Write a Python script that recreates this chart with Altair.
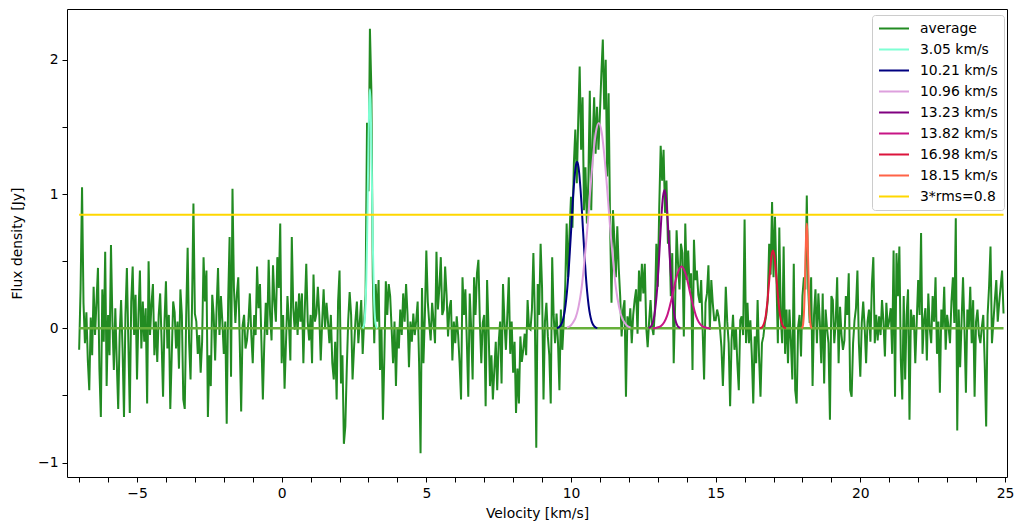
import altair as alt
import pandas as pd

# ---- channel grid of the averaged spectrum ----
V0 = -7.0
DV = 0.05

# averaged spectrum, flux density [Jy], read channel by channel (20 per km/s)
flux_m7_m3 = [
    -0.16, 0.30, 1.05, 0.19, -0.11, 0.12, -0.24, -0.46, 0.08, -0.20, 0.31, -0.05, 0.20, 0.45, -0.30, -0.66, 0.29, -0.10, 0.57, -0.43,
    0.10, -0.20, 0.62, 0.05, -0.31, 0.15, -0.25, -0.60, -0.05, 0.21, -0.15, -0.66, 0.10, 0.45, -0.10, -0.63, 0.20, 0.46, -0.05, 0.25,
    -0.38, 0.10, 0.43, -0.15, 0.20, -0.10, 0.15, -0.56, 0.50, -0.05, 0.18, 0.33, -0.20, 0.05, -0.25, 0.10, 0.26, -0.10, -0.51, 0.05,
    0.35, -0.15, 0.10, -0.60, -0.20, 0.20, 0.12, -0.15, 0.05, -0.30, 0.29, 0.10, -0.53, -0.60, 0.10, 0.60, -0.10, -0.38, 0.15, 0.93,
]
flux_m3_p1 = [
    0.11, 0.05, -0.19, -0.05, -0.33, -0.10, 0.53, 0.20, 0.43, -0.66, -0.20, -0.43, 0.25, 0.10, -0.24, 0.15, 0.45, -0.05, 0.24, 0.05,
    -0.19, 0.05, -0.71, 0.20, 0.68, -0.36, 1.04, 0.30, 0.04, 0.25, 0.38, -0.10, -0.62, 0.02, 0.10, -0.15, -0.09, 0.05, 0.26, -0.05,
    -0.26, 0.10, -0.05, 0.46, 0.15, 0.33, -0.10, -0.53, -0.10, 0.19, -0.05, 0.51, 0.10, -0.09, 0.47, 0.20, 0.05, 0.53, 0.30, 0.78,
    -0.26, 0.10, -0.45, -0.10, 0.24, 0.05, -0.24, 0.68, 0.15, -0.01, 0.20, -0.05, 0.26, 0.05, 0.26, -0.26, 0.15, 0.48, 0.05, -0.09,
]
flux_p1_p5 = [
    0.10, -0.26, 0.40, 0.05, 0.11, 0.31, 0.10, -0.24, 0.05, 0.29, 0.00, 0.19, 0.05, -0.11, 0.10, -0.26, -0.38, -0.10, -0.53, 0.20,
    0.43, -0.41, -0.20, -0.86, -0.73, -0.30, 0.06, 0.27, 0.10, -0.38, -0.15, 0.06, 0.20, -0.11, 0.05, 0.21, -0.19, 0.05, 0.25, 1.53,
    1.02, 2.23, 1.78, 0.38, -0.11, 0.33, 0.05, 0.36, -0.31, 0.00, -0.68, -0.20, 0.35, 0.10, 0.33, 0.24, 0.00, -0.26, 0.05, -0.43,
    0.01, -0.15, 0.14, -0.05, 0.26, 0.05, 0.33, 0.10, -0.29, 0.05, -0.10, 0.11, -0.05, 0.06, 0.20, -0.26, -0.93, 0.30, -0.26, 0.10,
]
flux_p5_p9 = [
    0.58, 0.20, 0.04, -0.09, 0.19, 0.05, -0.11, 0.57, 0.14, 0.30, 0.53, 0.10, 0.14, 0.46, 0.25, -0.06, 0.15, 0.21, -0.24, 0.05,
    -0.11, 0.09, -0.05, -0.26, -0.53, 0.38, 0.10, 0.29, -0.10, -0.51, 0.26, 0.00, -0.38, 0.38, 0.10, 0.41, 0.51, 0.05, -0.26, 0.04,
    0.10, -0.58, 0.36, 0.00, -0.43, -0.20, -0.53, -0.31, -0.10, -0.46, -0.11, 0.05, -0.41, 0.33, 0.05, -0.16, 0.10, 0.38, -0.19, 0.05,
    -0.33, -0.10, -0.63, -0.30, -0.56, -0.06, -0.25, -0.16, -0.04, -0.20, 0.21, 0.00, -0.01, 0.14, 0.56, 0.10, -0.89, 0.33, 0.10, 0.63,
]
flux_p9_p13 = [
    0.30, -0.53, 0.05, 0.19, -0.06, -0.20, -0.56, 0.53, 0.10, -0.11, 0.11, -0.10, -0.46, 0.14, -0.16, 0.05, 0.31, 0.78, 0.38, 0.71,
    0.98, 0.75, 1.23, 1.48, 1.08, 1.55, 1.95, 1.33, 1.72, 0.88, 1.20, 0.78, 1.10, 1.77, 0.88, 1.40, 1.72, 1.30, 1.65, 1.33,
    1.60, 1.90, 2.15, 1.63, 2.00, 1.13, 1.75, 0.80, 0.19, 0.88, 0.66, 0.38, 0.76, 0.45, 0.24, -0.06, 0.14, 0.21, -0.51, 0.09,
    -0.01, 0.15, -0.11, 0.10, 0.21, 0.29, -0.04, 0.43, 0.20, 0.48, 0.26, 0.48, 0.01, -0.14, 0.05, 0.21, 0.01, -0.05, 0.14, 0.63,
]
flux_p13_p17 = [
    0.31, 0.90, 1.36, 1.10, 1.33, 0.86, 1.10, 0.63, 0.73, 0.24, 0.56, -0.26, 0.19, 0.73, 0.48, 0.29, 0.63, 0.56, -0.06, 0.78,
    0.36, 0.58, 0.30, 0.41, -0.31, 0.66, 0.36, 0.43, 0.25, 0.19, 0.36, -0.01, -0.38, 0.19, 0.26, 0.47, -0.01, 0.36, 0.19, 0.06,
    0.06, 0.14, 0.09, 0.00, -0.14, -0.43, -0.11, 0.31, 0.05, -0.11, -0.58, -0.09, 0.10, -0.16, 0.01, -0.26, -0.46, 0.06, 0.09, -0.05,
    0.81, -0.11, 0.19, -0.11, 0.06, -0.20, -0.56, -0.06, -0.26, 0.21, -0.21, -0.51, -0.11, -0.06, 0.04, 0.10, 0.21, 0.63, 0.40, 0.94,
]
flux_p17_p21 = [
    0.38, 0.83, 0.38, -0.11, 0.75, 0.09, -0.11, 0.61, -0.19, 0.14, -0.26, 0.14, -0.10, -0.38, 0.48, -0.46, -0.56, 0.01, 0.10, -0.21,
    0.24, 0.38, 0.29, 0.99, 0.30, 0.04, 0.38, -0.43, 0.10, 0.29, -0.11, 0.26, 0.05, -0.26, 0.26, -0.41, 0.14, 0.00, -0.11, -0.68,
    0.24, 0.21, -0.11, 0.05, 0.38, -0.26, 0.16, -0.05, -0.16, -0.09, 0.24, 0.10, 0.41, -0.46, -0.51, -0.11, 0.06, 0.15, 0.43, -0.11,
    -0.36, 0.04, 0.20, 0.01, -0.26, 0.05, 0.14, -0.10, 0.33, 0.53, -0.11, 0.10, -0.09, 0.09, -0.05, 0.21, 0.05, -0.21, 0.19, 0.00,
]
flux_p21_p25 = [
    0.06, 0.15, -0.19, 0.58, -0.51, 0.56, 0.24, 0.61, -0.24, -0.53, 0.24, -0.38, 0.10, 0.29, -0.68, 0.14, -0.01, 0.10, -0.26, 0.05,
    0.36, 0.10, 0.71, -0.19, 0.06, 0.15, -0.24, 0.26, 0.00, -0.11, 0.24, 0.05, 0.38, -0.19, 0.05, -0.48, 0.14, 0.00, 0.31, -0.16,
    0.10, 0.01, -0.11, 0.20, 0.38, 0.04, 0.82, -0.76, 0.14, -0.29, 0.05, 0.38, 0.00, -0.48, 0.14, 0.00, 0.31, -0.11, 0.21, -0.51,
    0.05, 0.14, -0.05, -0.11, 0.01, 0.10, -0.26, -0.73, 0.10, 0.31, 0.61, -0.11, 0.05, 0.21, 0.36, 0.05, 0.19, 0.31, 0.43, 0.11,
]

g305_vel = [2.80, 2.85, 2.875, 2.90, 2.925, 2.95, 2.975, 3.00, 3.025, 3.05, 3.075, 3.10, 3.125, 3.15, 3.175, 3.20, 3.225, 3.25, 3.30]
g305_flux = [0.00, 0.03, 0.08, 0.18, 0.36, 0.64, 1.00, 1.38, 1.67, 1.78, 1.67, 1.38, 1.00, 0.64, 0.36, 0.18, 0.08, 0.03, 0.00]

g1021_vel = [9.51, 9.56, 9.61, 9.66, 9.71, 9.76, 9.81, 9.86, 9.91, 9.96, 10.01, 10.06, 10.11, 10.16, 10.21,
             10.26, 10.31, 10.36, 10.41, 10.46, 10.51, 10.56, 10.61, 10.66, 10.71, 10.76, 10.81, 10.86, 10.91]
g1021_flux = [0.003, 0.006, 0.014, 0.028, 0.055, 0.10, 0.17, 0.27, 0.40, 0.57, 0.75, 0.94, 1.09, 1.20, 1.24,
              1.20, 1.09, 0.94, 0.75, 0.57, 0.40, 0.27, 0.17, 0.10, 0.055, 0.028, 0.014, 0.006, 0.003]

g1096_vel = [9.86, 9.96, 10.06, 10.16, 10.26, 10.36, 10.46, 10.56, 10.66, 10.76, 10.86, 10.96,
             11.06, 11.16, 11.26, 11.36, 11.46, 11.56, 11.66, 11.76, 11.86, 11.96, 12.06]
g1096_flux = [0.006, 0.015, 0.04, 0.08, 0.16, 0.29, 0.49, 0.73, 1.01, 1.27, 1.46, 1.53,
              1.46, 1.27, 1.01, 0.73, 0.49, 0.29, 0.16, 0.08, 0.04, 0.015, 0.006]

g1323_vel = [12.68, 12.73, 12.78, 12.83, 12.88, 12.93, 12.98, 13.03, 13.08, 13.13, 13.18, 13.23,
             13.28, 13.33, 13.38, 13.43, 13.48, 13.53, 13.58, 13.63, 13.68, 13.73, 13.78]
g1323_flux = [0.003, 0.008, 0.02, 0.045, 0.094, 0.18, 0.30, 0.47, 0.66, 0.85, 0.98, 1.03,
              0.98, 0.85, 0.66, 0.47, 0.30, 0.18, 0.094, 0.045, 0.02, 0.008, 0.003]

g1382_vel = [12.82, 12.92, 13.02, 13.12, 13.22, 13.32, 13.42, 13.52, 13.62, 13.72, 13.82,
             13.92, 14.02, 14.12, 14.22, 14.32, 14.42, 14.52, 14.62, 14.72, 14.82]
g1382_flux = [0.001, 0.003, 0.008, 0.020, 0.046, 0.093, 0.17, 0.26, 0.36, 0.43, 0.46,
              0.43, 0.36, 0.26, 0.17, 0.093, 0.046, 0.020, 0.008, 0.003, 0.001]

g1698_vel = [16.53, 16.58, 16.63, 16.68, 16.73, 16.78, 16.83, 16.88, 16.93, 16.98,
             17.03, 17.08, 17.13, 17.18, 17.23, 17.28, 17.33, 17.38, 17.43]
g1698_flux = [0.0015, 0.005, 0.016, 0.041, 0.091, 0.18, 0.30, 0.43, 0.54, 0.58,
              0.54, 0.43, 0.30, 0.18, 0.091, 0.041, 0.016, 0.005, 0.0015]

g1815_vel = [17.975, 18.0, 18.025, 18.05, 18.075, 18.1, 18.125, 18.15, 18.175, 18.2, 18.225, 18.25, 18.275, 18.3, 18.325]
g1815_flux = [0.002, 0.009, 0.034, 0.105, 0.25, 0.47, 0.69, 0.78, 0.69, 0.47, 0.25, 0.105, 0.034, 0.009, 0.002]

RMS3 = 0.845  # 3*rms threshold level

series_names = ["average", "3.05 km/s", "10.21 km/s", "10.96 km/s", "13.23 km/s",
                "13.82 km/s", "16.98 km/s", "18.15 km/s", "3*rms=0.8"]
series_colors = ["#228b22", "#7fffd4", "#000080", "#dda0dd", "#800080",
                 "#c71585", "#dc143c", "#ff6347", "#ffd700"]

# ---- tables ----
avg_flux = (flux_m7_m3 + flux_m3_p1 + flux_p1_p5 + flux_p5_p9 +
            flux_p9_p13 + flux_p13_p17 + flux_p17_p21 + flux_p21_p25)
avg_vel = [round(V0 + DV * i, 3) for i in range(len(avg_flux))]
df_avg = pd.DataFrame({"vel": avg_vel, "flux": avg_flux, "series": "average"})

components = [
    ("3.05 km/s", g305_vel, g305_flux),
    ("10.21 km/s", g1021_vel, g1021_flux),
    ("10.96 km/s", g1096_vel, g1096_flux),
    ("13.23 km/s", g1323_vel, g1323_flux),
    ("13.82 km/s", g1382_vel, g1382_flux),
    ("16.98 km/s", g1698_vel, g1698_flux),
    ("18.15 km/s", g1815_vel, g1815_flux),
]
df_comp = pd.concat(
    [pd.DataFrame({"vel": v, "flux": f, "series": n}) for n, v, f in components],
    ignore_index=True,
)
df_zero = pd.DataFrame({"vel": [avg_vel[0]], "v2": [avg_vel[-1]], "flux": [0.0]})
df_rms = pd.DataFrame({"vel": [avg_vel[0], avg_vel[-1]], "flux": [RMS3, RMS3], "series": "3*rms=0.8"})

FONT = "DejaVu Sans"

xscale = alt.Scale(domain=[-7.42, 25.07], nice=False, zero=False)
yscale = alt.Scale(domain=[-1.107, 2.378], nice=False, zero=False)

x_ticks = list(range(-7, 26))
y_ticks = [-1, -0.5, 0, 0.5, 1, 1.5, 2]

xaxis = alt.Axis(
    title="Velocity [km/s]",
    values=x_ticks,
    labelExpr="(round(datum.value) % 5 == 0) ? format(datum.value, 'd') : ''",
    grid=False, domain=False, tickSize=5, tickColor="black", tickWidth=1,
    labelPadding=4, labelFontSize=13.9, labelFont=FONT, labelColor="black",
    titleFontSize=13.9, titleFont=FONT, titleFontWeight="normal", titleColor="black",
    titlePadding=7, labelFlush=False, labelOverlap=False,
)
yaxis = alt.Axis(
    title="Flux density [Jy]",
    values=y_ticks,
    labelExpr="(datum.value == round(datum.value)) ? format(datum.value, 'd') : ''",
    grid=False, domain=False, tickSize=5, tickColor="black", tickWidth=1,
    labelPadding=4, labelFontSize=13.9, labelFont=FONT, labelColor="black",
    titleFontSize=13.9, titleFont=FONT, titleFontWeight="normal", titleColor="black",
    titlePadding=13, labelFlush=False, labelOverlap=False,
)

legend = alt.Legend(
    title=None, orient="none", legendX=805, legendY=6,
    symbolType="M-1,0H3", symbolSize=225, symbolStrokeWidth=2, clipHeight=15,
    rowPadding=6, padding=6, labelOffset=25,
    labelFontSize=13.9, labelFont=FONT, labelColor="black",
    strokeColor="#cccccc", fillColor="white", cornerRadius=3,
)
color = alt.Color("series:N", scale=alt.Scale(domain=series_names, range=series_colors), legend=legend)

x_enc = alt.X("vel:Q", scale=xscale, axis=xaxis)
y_enc = alt.Y("flux:Q", scale=yscale, axis=yaxis)

l_avg = alt.Chart(df_avg).mark_line(strokeWidth=2, interpolate="linear").encode(
    x=x_enc, y=y_enc, color=color
)
l_zero = alt.Chart(df_zero).mark_rule(color="#66b03a", strokeWidth=2.5).encode(
    x=x_enc, x2="v2:Q", y=y_enc
)
l_comp = alt.Chart(df_comp).mark_line(strokeWidth=2, interpolate="monotone").encode(
    x=x_enc, y=y_enc, color=color
)
l_rms = alt.Chart(df_rms).mark_line(strokeWidth=2).encode(
    x=x_enc, y=y_enc, color=color
)

chart = alt.layer(l_avg, l_zero, l_comp, l_rms).properties(
    width=940, height=468,
    padding={"left": 59, "top": 1, "right": 7, "bottom": 45},
    autosize=alt.AutoSizeParams(type="none"),
).configure_view(
    stroke="black", strokeWidth=1
).configure_axis(labelOverlap=False)

chart.save("out.html", embed_options={"renderer": "svg", "actions": False})
